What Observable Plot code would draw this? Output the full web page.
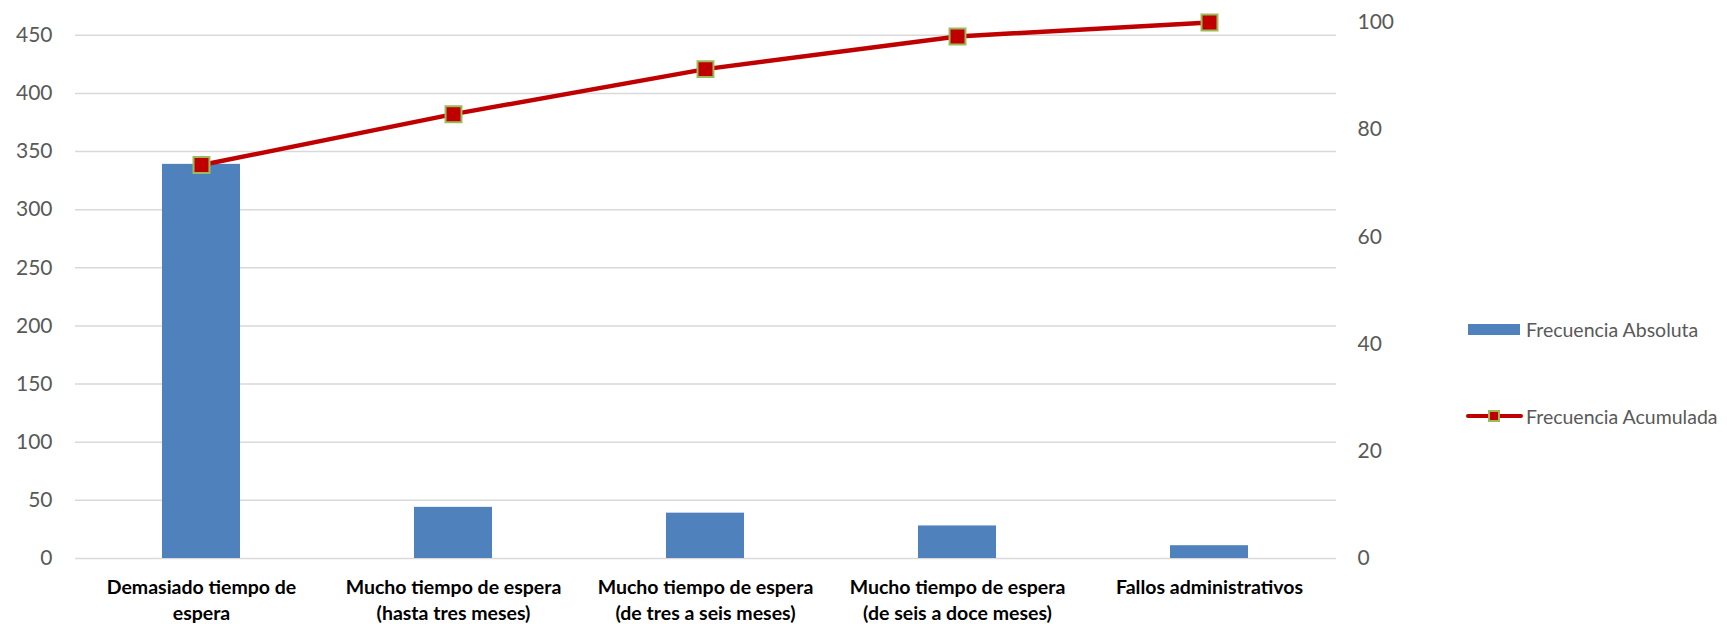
<!DOCTYPE html>
<html><head><meta charset="utf-8">
<script src="https://cdn.jsdelivr.net/npm/d3@7"></script>
<script src="https://cdn.jsdelivr.net/npm/@observablehq/plot@0.6"></script>
<style>
html,body{margin:0;padding:0;background:#fff;}
#wrap{position:relative;width:1727px;height:624px;overflow:hidden;}
.leg{position:absolute;left:1466px;height:24px;font-family:Lato,sans-serif;font-size:19.5px;color:#595959;display:flex;align-items:center;white-space:nowrap;}
.sw{width:52px;height:11px;background:#4F81BD;margin-left:2px;margin-right:6px;}
.ln{position:relative;width:57px;height:24px;margin-right:3px;}
.ln .bar{position:absolute;left:0;right:0;top:10px;height:4px;background:#C00000;border-radius:2px;}
.ln .mk{position:absolute;left:22px;top:6px;width:8px;height:8px;background:#C00000;border:2px solid #9BBB59;}
</style></head><body><div id="wrap"></div>
<script>
const categories = [
  "Demasiado tiempo de espera",
  "Mucho tiempo de espera (hasta tres meses)",
  "Mucho tiempo de espera (de tres a seis meses)",
  "Mucho tiempo de espera (de seis a doce meses)",
  "Fallos administrativos"
];
const tickLabels = [
  "Demasiado tiempo de\nespera",
  "Mucho tiempo de espera\n(hasta tres meses)",
  "Mucho tiempo de espera\n(de tres a seis meses)",
  "Mucho tiempo de espera\n(de seis a doce meses)",
  "Fallos administrativos"
];
const absoluta = [339, 44, 39, 28, 11];
const acumulada = [73.4, 82.9, 91.3, 97.4, 100];
const leftTicks = [0, 50, 100, 150, 200, 250, 300, 350, 400, 450];
const rightTicks = [0, 20, 40, 60, 80, 100];
const seriesNames = ["Frecuencia Absoluta", "Frecuencia Acumulada"];

const total = d3.sum(absoluta);
const k = total / 100;
const data = categories.map((c, i) => ({cat: c, abs: absoluta[i], acc: acumulada[i]}));

const chart = Plot.plot({
  width: 1727, height: 624,
  marginLeft: 75, marginRight: 391, marginTop: 22, marginBottom: 66,
  style: {fontFamily: "Lato, sans-serif", background: "white", overflow: "visible"},
  x: {domain: categories, paddingInner: 0.69, paddingOuter: 0.345, label: null},
  y: {domain: [0, total], label: null},
  marks: [
    Plot.gridY(leftTicks, {stroke: "#d9d9d9", strokeOpacity: 1, strokeWidth: 1.5}),
    Plot.barY(data, {x: "cat", y: "abs", fill: "#4F81BD"}),
    Plot.line(data, {x: "cat", y: d => d.acc * k, stroke: "#C00000", strokeWidth: 4.5}),
    Plot.dot(data, {x: "cat", y: d => d.acc * k, symbol: "square", r: 9, fill: "#C00000", stroke: "#9BBB59", strokeWidth: 2}),
    Plot.axisY(leftTicks, {anchor: "left", tickSize: 0, tickPadding: 23, fontSize: 21, fill: "#595959", label: null}),
    Plot.axisY(rightTicks.map(p => p * k), {anchor: "right", tickSize: 0, tickPadding: 21, tickFormat: d => String(Math.round(d / k)), fontSize: 21, fill: "#595959", label: null}),
    Plot.axisX({tickSize: 0, tickPadding: 17, tickFormat: d => tickLabels[categories.indexOf(d)], fontSize: 19.5, fontWeight: "bold", fill: "black", lineHeight: 1.33, label: null})
  ]
});
const wrap = document.getElementById("wrap");
wrap.appendChild(chart);

const l1 = document.createElement("div");
l1.className = "leg"; l1.style.top = (329 - 12) + "px";
l1.innerHTML = '<div class="sw"></div><span></span>';
l1.querySelector("span").textContent = seriesNames[0];
wrap.appendChild(l1);
const l2 = document.createElement("div");
l2.className = "leg"; l2.style.top = (416 - 12) + "px";
l2.innerHTML = '<div class="ln"><div class="bar"></div><div class="mk"></div></div><span></span>';
l2.querySelector("span").textContent = seriesNames[1];
wrap.appendChild(l2);
</script></body></html>
